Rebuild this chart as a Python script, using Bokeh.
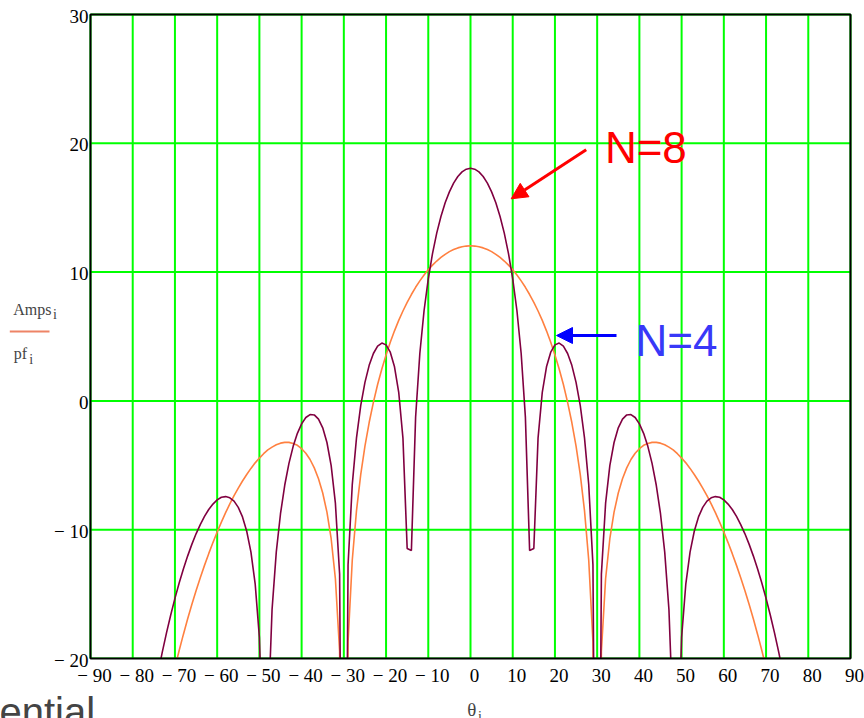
from bokeh.plotting import figure
from bokeh.models import Range1d, Label, Arrow, NormalHead
from bokeh.core.properties import value
from bokeh.embed import file_html
from bokeh.resources import INLINE

# ---- data (1 degree steps, dB) ----
theta_amps = list(range(-71, 72))
amps_db = [
    -22.12, -20.71, -19.38, -18.13, -16.94, -15.81, -14.74, -13.73, -12.77, -11.86,
    -11.00, -10.18, -9.41, -8.68, -8.00, -7.36, -6.77, -6.22, -5.71, -5.24,
    -4.81, -4.44, -4.10, -3.80, -3.59, -3.41, -3.28, -3.22, -3.22, -3.30,
    -3.45, -3.71, -4.06, -4.55, -5.20, -6.04, -7.15, -8.64, -10.70, -13.81,
    -19.44, -60.0, -18.71, -12.35, -8.52, -5.72, -3.51, -1.68, -0.11, 1.27,
    2.48, 3.57, 4.55, 5.44, 6.25, 6.98, 7.65, 8.26, 8.82, 9.32,
    9.77, 10.18, 10.54, 10.86, 11.14, 11.38, 11.59, 11.75, 11.88, 11.97,
    12.02,
    12.04,
    12.02, 11.97, 11.88, 11.75, 11.59, 11.38, 11.14, 10.86, 10.54, 10.18,
    9.77, 9.32, 8.82, 8.26, 7.65, 6.98, 6.25, 5.44, 4.55, 3.57,
    2.48, 1.27, -0.11, -1.68, -3.51, -5.72, -8.52, -12.35, -18.71, -60.0,
    -19.44, -13.81, -10.70, -8.64, -7.15, -6.04, -5.20, -4.55, -4.06, -3.71,
    -3.45, -3.30, -3.22, -3.22, -3.28, -3.41, -3.59, -3.80, -4.10, -4.44,
    -4.81, -5.24, -5.71, -6.22, -6.77, -7.36, -8.00, -8.68, -9.41, -10.18,
    -11.00, -11.86, -12.77, -13.73, -14.74, -15.81, -16.94, -18.13, -19.38, -20.71,
    -22.12,
]

theta_pf = list(range(-74, 75))
pf_db = [
    -21.14, -19.51, -18.01, -16.62, -15.33, -14.14, -13.05, -12.05, -11.14, -10.32,
    -9.60, -8.97, -8.43, -8.01, -7.69, -7.48, -7.43, -7.52, -7.78, -8.27,
    -9.01, -10.12, -11.74, -14.20, -18.36, -28.66, -25.12, -16.21, -11.74, -8.76,
    -6.55, -4.85, -3.53, -2.52, -1.78, -1.29, -1.06, -1.09, -1.41, -2.09,
    -3.23, -5.03, -7.94, -13.45, -60.0, -12.73, -6.49, -2.87, -0.37, 1.44,
    2.76, 3.68, 4.26, 4.49, 4.35, 3.78, 2.65, 0.67, -2.89, -11.46,
    -11.61, -1.26, 3.68, 7.00, 9.48, 11.44, 13.03, 14.32, 15.38, 16.23,
    16.91, 17.42, 17.78, 17.99,
    18.06,
    17.99, 17.78, 17.42, 16.91, 16.23, 15.38, 14.32, 13.03, 11.44, 9.48,
    7.00, 3.68, -1.26, -11.61, -11.46, -2.89, 0.67, 2.65, 3.78, 4.35,
    4.49, 4.26, 3.68, 2.76, 1.44, -0.37, -2.87, -6.49, -12.73, -60.0,
    -13.45, -7.94, -5.03, -3.23, -2.09, -1.41, -1.09, -1.06, -1.29, -1.78,
    -2.52, -3.53, -4.85, -6.55, -8.76, -11.74, -16.21, -25.12, -28.66, -18.36,
    -14.20, -11.74, -10.12, -9.01, -8.27, -7.78, -7.52, -7.43, -7.48, -7.69,
    -8.01, -8.43, -8.97, -9.60, -10.32, -11.14, -12.05, -13.05, -14.14, -15.33,
    -16.62, -18.01, -19.51, -21.14,
]

x_ticks = [-90, -80, -70, -60, -50, -40, -30, -20, -10, 0, 10, 20, 30, 40, 50, 60, 70, 80, 90]
x_tick_labels = ["\u2212 90", "\u2212 80", "\u2212 70", "\u2212 60", "\u2212 50", "\u2212 40",
                 "\u2212 30", "\u2212 20", "\u2212 10", "0", "10", "20", "30", "40", "50",
                 "60", "70", "80", "90"]
y_ticks = [-20, -10, 0, 10, 20, 30]
y_tick_labels = ["\u2212 20", "\u2212 10", "0", "10", "20", "30"]

X_MIN, X_MAX = -90, 90
Y_MIN, Y_MAX = -20, 30

# ---- layout: plot box at px 90..850 (x) and 14..658 (y) in an 864x718 canvas ----
W, H = 864, 718
BOX_L, BOX_R, BOX_T, BOX_B = 90, 850, 14, 658
SX = (BOX_R - BOX_L) / (X_MAX - X_MIN)
SY = (BOX_B - BOX_T) / (Y_MAX - Y_MIN)
X_LO = X_MIN - BOX_L / SX
X_HI = X_MAX + (W - BOX_R) / SX
Y_HI = Y_MAX + BOX_T / SY
Y_LO = Y_MIN - (H - BOX_B) / SY


def dx(px):
    return X_LO + px / SX


def dy(py):
    return Y_HI - py / SY


BASE = 0.41  # rendered alphabetic baseline sits this many ems below the anchor


def anchor(py_baseline, size):
    return dy(py_baseline - BASE * size)


GREEN = "#00ff00"
SERIF = "Liberation Serif"
SANS = "Liberation Sans"

p = figure(width=W, height=H, x_range=Range1d(X_LO, X_HI), y_range=Range1d(Y_LO, Y_HI),
           output_backend="svg", toolbar_location=None,
           x_axis_location=None, y_axis_location=None, min_border=0)
p.background_fill_color = "white"
p.border_fill_color = "white"
p.outline_line_color = None
p.xgrid.visible = False
p.ygrid.visible = False

# grid
p.segment(x0=x_ticks, y0=[Y_MIN] * len(x_ticks), x1=x_ticks, y1=[Y_MAX] * len(x_ticks),
          line_color=GREEN, line_width=2)
p.segment(x0=[X_MIN] * len(y_ticks), y0=y_ticks, x1=[X_MAX] * len(y_ticks), y1=y_ticks,
          line_color=GREEN, line_width=2)

# curves
p.line(theta_amps, amps_db, line_color="#ff8040", line_width=1.6)
p.line(theta_pf, pf_db, line_color="#800040", line_width=1.6)

# everything below the plot box is blank (curves are cut at the frame)
p.quad(left=[X_LO], right=[X_HI], top=[Y_MIN], bottom=[Y_LO],
       fill_color="white", line_color=None)

# plot box
p.quad(left=[X_MIN], right=[X_MAX], top=[Y_MAX], bottom=[Y_MIN],
       fill_color=None, line_color="black", line_width=2)

# tick labels
TS = 19
p.text(x=[t + 4 / SX for t in x_ticks], y=[anchor(682.5, TS)] * len(x_ticks), text=x_tick_labels,
       text_font=value(SERIF), text_font_size=f"{TS}px", text_color="black",
       text_align="center", text_baseline="alphabetic")
p.text(x=[X_MIN - 2 / SX] * len(y_ticks),
       y=[t - (9.4 - BASE * TS) / SY for t in y_ticks], text=y_tick_labels,
       text_font=value(SERIF), text_font_size=f"{TS}px", text_color="black",
       text_align="right", text_baseline="alphabetic")

# arrows and N labels
p.add_layout(Arrow(end=NormalHead(size=16, fill_color="red", line_color="red"),
                   x_start=dx(585.7), y_start=dy(149.3), x_end=dx(510.7), y_end=dy(198.3),
                   line_color="red", line_width=3))
p.add_layout(Arrow(end=NormalHead(size=16, fill_color="blue", line_color="blue"),
                   x_start=dx(616), y_start=dy(335), x_end=dx(556), y_end=dy(335),
                   line_color="blue", line_width=3))
p.add_layout(Label(x=dx(604.4), y=anchor(165, 44), text="N=8", text_color="#ff0000",
                   text_font=SANS, text_font_size="44px", text_baseline="alphabetic"))
p.add_layout(Label(x=dx(635), y=anchor(358.3, 44), text="N=4", text_color="#3838f8",
                   text_font=SANS, text_font_size="44px", text_baseline="alphabetic"))

# y-axis expressions
p.add_layout(Label(x=dx(12.7), y=anchor(315.3, 16), text="Amps", text_font=SERIF,
                   text_font_size="16px", text_baseline="alphabetic"))
p.add_layout(Label(x=dx(52.5), y=anchor(320, 14), text="i", text_font=SERIF,
                   text_font_size="14px", text_baseline="alphabetic"))
p.add_layout(Arrow(end=None, x_start=dx(9.3), y_start=dy(331), x_end=dx(49), y_end=dy(331),
                   line_color="#ee8466", line_width=2))
p.add_layout(Label(x=dx(13.3), y=anchor(360, 16), text="pf", text_font=SERIF,
                   text_font_size="16px", text_baseline="alphabetic"))
p.add_layout(Label(x=dx(28.8), y=anchor(365, 14), text="i", text_font=SERIF,
                   text_font_size="14px", text_baseline="alphabetic"))

# x-axis expression
p.add_layout(Label(x=dx(466.7), y=anchor(717, 19), text="\u03b8", text_font=SERIF,
                   text_font_size="19px", text_baseline="alphabetic"))
p.add_layout(Label(x=dx(477.5), y=anchor(722, 14), text="i", text_font=SERIF,
                   text_font_size="14px", text_baseline="alphabetic"))

# partial slide text at the bottom-left edge
p.add_layout(Label(x=dx(-1), y=anchor(728, 40), text="ential", text_font=SANS,
                   text_font_size="40px", text_baseline="alphabetic"))

open("out.html", "w").write(file_html(p, INLINE))
